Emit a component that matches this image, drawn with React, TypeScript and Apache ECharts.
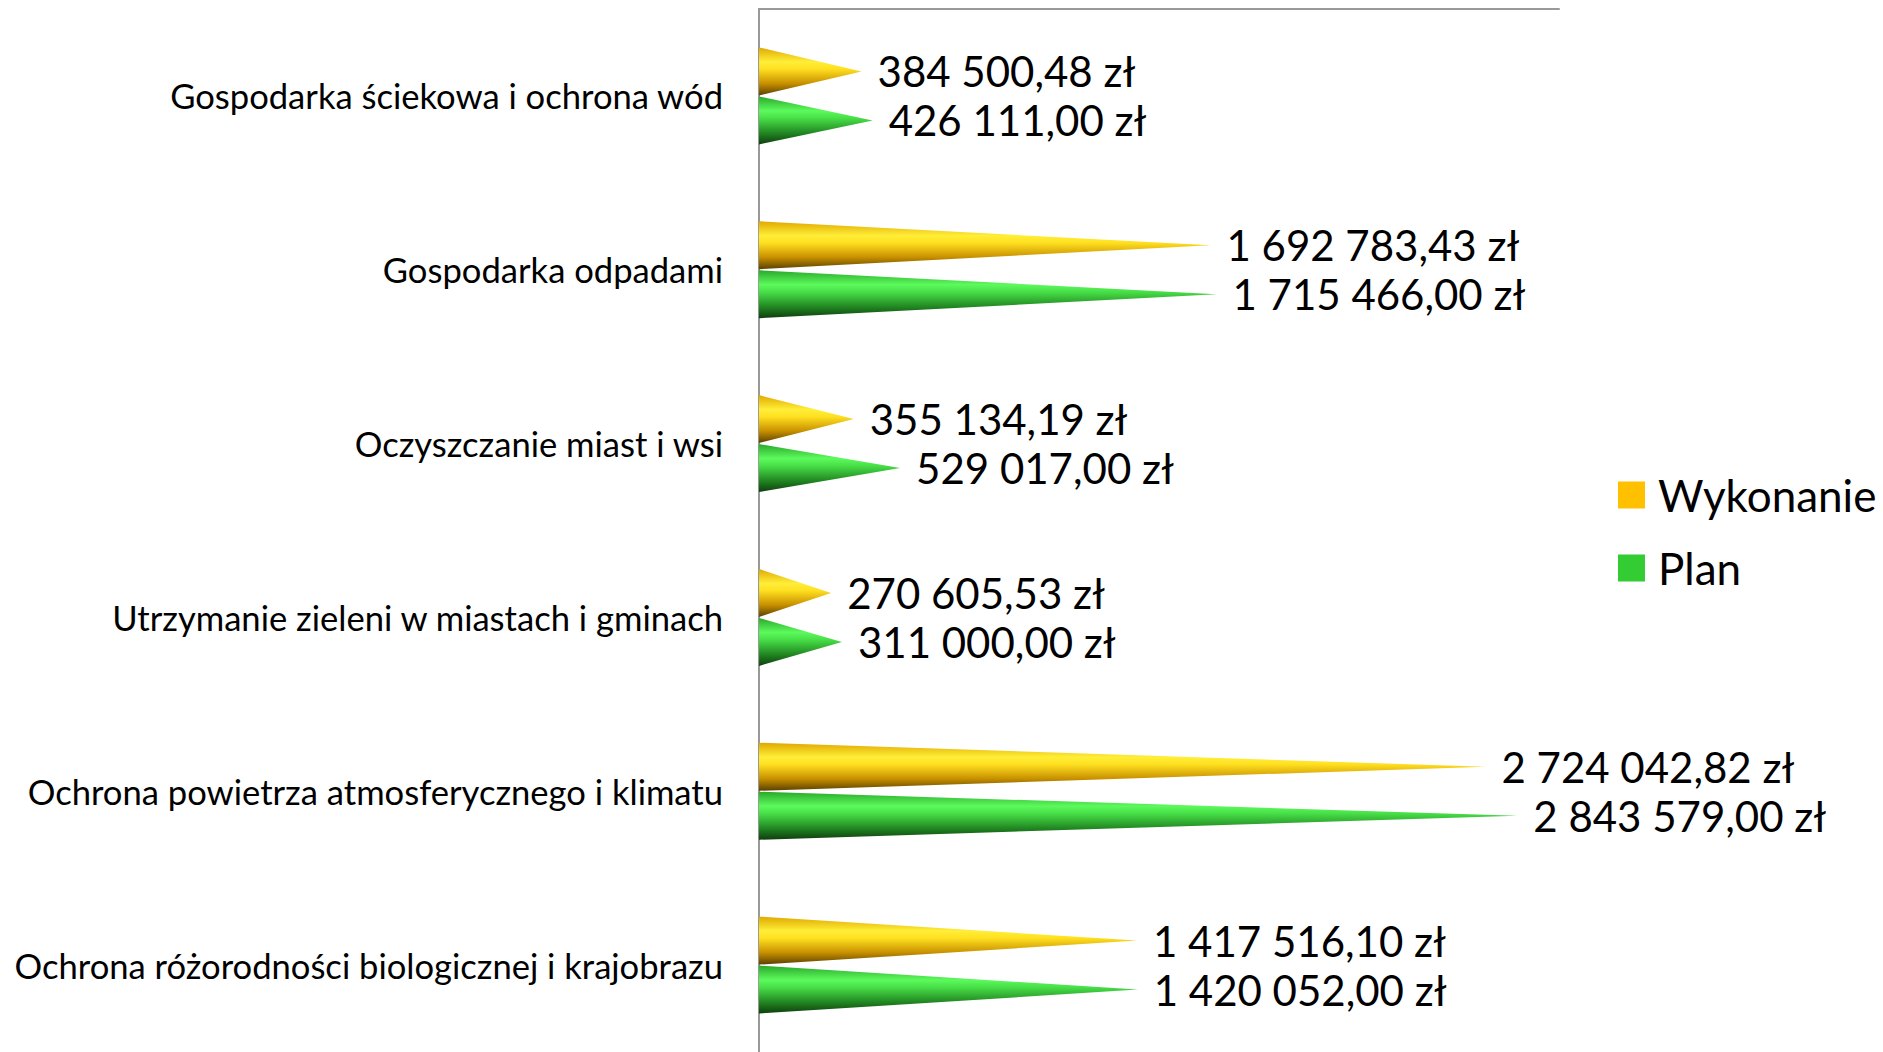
import React, { useEffect, useRef } from "react";
import * as echarts from "echarts";

const categories = [
  "Gospodarka ściekowa i ochrona wód",
  "Gospodarka odpadami",
  "Oczyszczanie miast i wsi",
  "Utrzymanie zieleni w miastach i gminach",
  "Ochrona powietrza atmosferycznego i klimatu",
  "Ochrona różorodności biologicznej i krajobrazu",
];
const wykonanie = [384500.48, 1692783.43, 355134.19, 270605.53, 2724042.82, 1417516.1];
const plan = [426111.0, 1715466.0, 529017.0, 311000.0, 2843579.0, 1420052.0];
const seriesNames = ["Wykonanie", "Plan"];

const FONT = "Lato, 'Noto Sans', sans-serif";

function fmt(v: number): string {
  const [i, d] = v.toFixed(2).split(".");
  return i.replace(/\B(?=(\d{3})+(?!\d))/g, " ") + "," + d + " zł";
}

const cone = "path://M0,0 L100,50 L0,100 Z";

function gradYellow() {
  return new echarts.graphic.LinearGradient(0, 0, 0, 1, [
    { offset: 0, color: "#e0a800" },
    { offset: 0.3, color: "#ffee38" },
    { offset: 0.45, color: "#ffe020" },
    { offset: 0.75, color: "#c89000" },
    { offset: 1, color: "#5a4000" },
  ]);
}
function gradGreen() {
  return new echarts.graphic.LinearGradient(0, 0, 0, 1, [
    { offset: 0, color: "#2aa82a" },
    { offset: 0.3, color: "#5cfa5c" },
    { offset: 0.45, color: "#48e048" },
    { offset: 0.75, color: "#238a23" },
    { offset: 1, color: "#0e3e0e" },
  ]);
}

export default function App() {
  const ref = useRef<HTMLDivElement>(null);
  useEffect(() => {
    if (!ref.current) return;
    const chart = echarts.init(ref.current, undefined, { renderer: "svg" });
    const labelCfg = {
      show: true,
      position: "right" as const,
      distance: 16,
      fontFamily: FONT,
      fontSize: 42,
      color: "#000",
      formatter: (p: any) => fmt(p.value),
    };
    chart.setOption({
      animation: false,
      backgroundColor: "#fff",
      grid: { left: 759, top: 9, width: 800, height: 1046 },
      legend: {
        orient: "vertical",
        left: 1618,
        top: 473,
        padding: 0,
        itemWidth: 27,
        itemHeight: 27,
        itemGap: 29,
        textStyle: {
          fontFamily: FONT,
          fontSize: 44,
          lineHeight: 44,
          color: "#000",
          padding: [0, 0, 0, 8],
        },
        data: [
          { name: seriesNames[0], icon: "rect", itemStyle: { color: "#FFC000" } },
          { name: seriesNames[1], icon: "rect", itemStyle: { color: "#33CC33" } },
        ],
      },
      xAxis: {
        type: "value",
        position: "top",
        min: 0,
        max: 3000000,
        axisLine: { show: true, lineStyle: { color: "#999", width: 2 } },
        axisTick: { show: false },
        axisLabel: { show: false },
        splitLine: { show: false },
      },
      yAxis: {
        type: "category",
        inverse: true,
        data: categories,
        axisLine: { show: true, lineStyle: { color: "#999", width: 2 } },
        axisTick: { show: false },
        axisLabel: { fontFamily: FONT, fontSize: 34.6, color: "#000", margin: 36 },
      },
      series: [
        {
          name: seriesNames[0],
          type: "pictorialBar",
          symbol: cone,
          symbolSize: ["100%", "100%"],
          symbolPosition: "start",
          barWidth: 48,
          barGap: "2%",
          data: wykonanie,
          itemStyle: { color: gradYellow() },
          label: labelCfg,
        },
        {
          name: seriesNames[1],
          type: "pictorialBar",
          symbol: cone,
          symbolSize: ["100%", "100%"],
          symbolPosition: "start",
          barWidth: 48,
          barGap: "2%",
          data: plan,
          itemStyle: { color: gradGreen() },
          label: labelCfg,
        },
      ],
    });
    return () => chart.dispose();
  }, []);
  return (
    <div
      ref={ref}
      style={{ position: "fixed", left: 0, top: 0, width: 1883, height: 1052 }}
    />
  );
}
